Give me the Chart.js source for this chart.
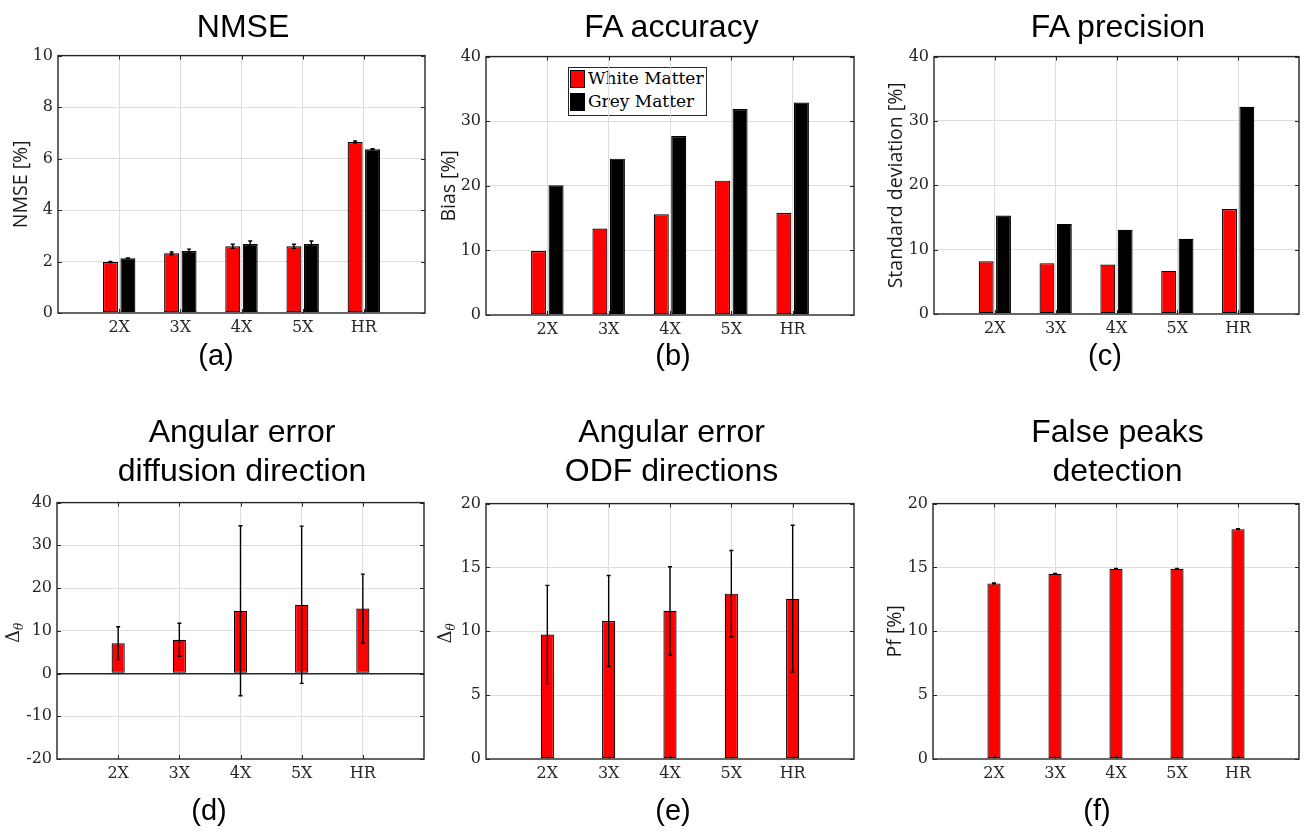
<!DOCTYPE html>
<html>
<head>
<meta charset="utf-8">
<script src="https://cdn.jsdelivr.net/npm/chart.js@4.4.0/dist/chart.umd.min.js"></script>
<style>
  body { margin: 0; width: 1304px; height: 832px; background: #fff; position: relative; overflow: hidden; }
  canvas { position: absolute; }
  .ttl, .cap { position: absolute; width: 400px; text-align: center; font-family: "Liberation Sans", Arial, sans-serif; color: #000; line-height: 39px; white-space: nowrap; }
  .ttl { font-size: 32px; }
  .cap { font-size: 29px; }
  #legend { position: absolute; left: 568px; top: 67px; width: 137px; height: 47px; border: 1px solid #262626; background: #fff;
            font-family: "DejaVu Serif", serif; font-size: 17px; color: #000; }
  #legend .row { position: absolute; left: 1px; height: 19px; line-height: 19px; white-space: nowrap; }
  #legend .sw { position: absolute; left: 0; top: 0; width: 13px; height: 16px; border: 1px solid #000; }
  #legend .tx { position: absolute; left: 18px; top: -1px; }
</style>
</head>
<body>
<div id="legend"></div>
<script>
// categories and series
const categories = ['2X', '3X', '4X', '5X', 'HR'];
const seriesNames = ['White Matter', 'Grey Matter'];
const seriesColors = ['#ff0000', '#000000'];

// (a) NMSE [%]
const nmseWhite = [1.98, 2.32, 2.59, 2.59, 6.64];
const nmseGrey = [2.13, 2.41, 2.68, 2.68, 6.36];
const nmseWhiteErr = [0.02, 0.05, 0.08, 0.08, 0.04];
const nmseGreyErr = [0.01, 0.07, 0.12, 0.12, 0.02];

// (b) FA bias [%]
const biasWhite = [9.9, 13.4, 15.6, 20.8, 15.8];
const biasGrey = [20.1, 24.2, 27.7, 31.9, 32.9];

// (c) FA standard deviation [%]
const sdWhite = [8.2, 7.9, 7.7, 6.7, 16.3];
const sdGrey = [15.3, 14.0, 13.1, 11.7, 32.2];

// (d) angular error, diffusion direction
const angDiff = [7.1, 7.9, 14.7, 16.1, 15.2];
const angDiffErr = [3.85, 3.86, 19.9, 18.4, 8.06];

// (e) angular error, ODF directions
const angOdf = [9.75, 10.8, 11.6, 12.95, 12.55];
const angOdfErr = [3.85, 3.57, 3.46, 3.38, 5.75];

// (f) false peaks
const falsePeaks = [13.75, 14.5, 14.9, 14.9, 18.0];
const falsePeaksErr = [0.03, 0.03, 0.03, 0.03, 0.03];

const pad = a => [null, ...a, null];
const axisLabels = ['', ...categories, ''];

const ink = '#262626';
const gridCol = '#dddddd';
const tickFont = { family: 'DejaVu Serif', size: 16 };

// error bars drawn on top of the bars
const errPlugin = {
  id: 'errbars',
  afterDatasetsDraw(chart) {
    const ctx = chart.ctx;
    const ys = chart.scales.y;
    chart.data.datasets.forEach((ds, i) => {
      if (!ds.errors) return;
      const meta = chart.getDatasetMeta(i);
      meta.data.forEach((bar, j) => {
        const v = ds.data[j], e = ds.errors[j];
        if (v == null || e == null) return;
        const y1 = ys.getPixelForValue(v + e);
        const y2 = ys.getPixelForValue(v - e);
        ctx.save();
        ctx.strokeStyle = '#000';
        ctx.lineWidth = 1.4;
        ctx.beginPath();
        ctx.moveTo(bar.x, y1); ctx.lineTo(bar.x, y2);
        ctx.moveTo(bar.x - 2, y1); ctx.lineTo(bar.x + 2, y1);
        ctx.moveTo(bar.x - 2, y2); ctx.lineTo(bar.x + 2, y2);
        ctx.stroke();
        ctx.restore();
      });
    });
  }
};

// matlab style box with inward ticks
const boxPlugin = {
  id: 'mbox',
  afterDraw(chart) {
    const { ctx, chartArea: a } = chart;
    const xs = chart.scales.x, ys = chart.scales.y;
    ctx.save();
    ctx.strokeStyle = ink;
    ctx.lineWidth = 1.4;
    ctx.strokeRect(a.left, a.top, a.right - a.left, a.bottom - a.top);
    ctx.lineWidth = 1;
    ctx.beginPath();
    ys.ticks.forEach(t => {
      const y = Math.round(ys.getPixelForValue(t.value)) + 0.5;
      ctx.moveTo(a.left, y); ctx.lineTo(a.left + 4, y);
      ctx.moveTo(a.right, y); ctx.lineTo(a.right - 4, y);
    });
    for (let i = 1; i <= categories.length; i++) {
      const x = Math.round(xs.getPixelForValue(i)) + 0.5;
      ctx.moveTo(x, a.bottom); ctx.lineTo(x, a.bottom - 4);
      ctx.moveTo(x, a.top); ctx.lineTo(x, a.top + 4);
    }
    ctx.stroke();
    ctx.restore();
  }
};

function deltaTheta(cx) {
  return {
    id: 'dtheta',
    afterDraw(chart) {
      const { ctx, chartArea: a } = chart;
      const cy = (a.top + a.bottom) / 2 + 2;
      ctx.save();
      ctx.translate(cx, cy);
      ctx.rotate(-Math.PI / 2);
      ctx.fillStyle = ink;
      ctx.font = '18px "DejaVu Serif"';
      const wD = ctx.measureText('Δ').width;
      ctx.font = 'italic 12px "DejaVu Serif"';
      const wT = ctx.measureText('θ').width;
      const x0 = -(wD + wT) / 2;
      ctx.font = '18px "DejaVu Serif"';
      ctx.fillText('Δ', x0, 6);
      ctx.font = 'italic 12px "DejaVu Serif"';
      ctx.fillText('θ', x0 + wD, 10);
      ctx.restore();
    }
  };
}

const panels = [
  { area: [58, 55, 428, 313], x0: 0, y: [0, 10, 2], title: ['NMSE'], cap: '(a)', capX: 216, ylab: 'NMSE [%]', ylabX: 21,
    sets: [{ data: nmseWhite, err: nmseWhiteErr }, { data: nmseGrey, err: nmseGreyErr }] },
  { area: [486, 56, 857, 315], x0: 436, y: [0, 40, 10], title: ['FA accuracy'], cap: '(b)', capX: 673, ylab: 'Bias [%]', ylabX: 449,
    sets: [{ data: biasWhite }, { data: biasGrey }] },
  { area: [934, 56, 1302, 314], x0: 872, y: [0, 40, 10], title: ['FA precision'], cap: '(c)', capX: 1105, ylab: 'Standard deviation [%]', ylabX: 896,
    sets: [{ data: sdWhite }, { data: sdGrey }] },
  { area: [57, 502, 427, 759], x0: 0, y: [-20, 40, 10], title: ['Angular error', 'diffusion direction'], cap: '(d)', capX: 209, dtheta: 13,
    sets: [{ data: angDiff, err: angDiffErr }] },
  { area: [486, 503, 857, 759], x0: 436, y: [0, 20, 5], title: ['Angular error', 'ODF directions'], cap: '(e)', capX: 673, dtheta: 9,
    sets: [{ data: angOdf, err: angOdfErr }] },
  { area: [933, 503, 1302, 759], x0: 872, y: [0, 20, 5], title: ['False peaks', 'detection'], cap: '(f)', capX: 1097, ylab: 'Pf [%]', ylabX: 895,
    sets: [{ data: falsePeaks, err: falsePeaksErr }] }
];

panels.forEach((p, k) => {
  const [l, t, r, b] = p.area;
  const topRow = k < 3;
  const y0 = t - 14, x1 = r + 2, y1 = b + 36;

  const cv = document.createElement('canvas');
  cv.width = x1 - p.x0; cv.height = y1 - y0;
  cv.style.left = p.x0 + 'px'; cv.style.top = y0 + 'px';
  document.body.appendChild(cv);

  const ttl = document.createElement('div');
  ttl.className = 'ttl';
  ttl.style.left = ((l + r) / 2 - 200) + 'px';
  ttl.style.top = (topRow ? 7 : 412) + 'px';
  ttl.innerHTML = p.title.join('<br>');
  document.body.appendChild(ttl);

  const cap = document.createElement('div');
  cap.className = 'cap';
  cap.style.left = (p.capX - 200) + 'px';
  cap.style.top = (topRow ? 336 : 791) + 'px';
  cap.textContent = p.cap;
  document.body.appendChild(cap);

  const grouped = p.sets.length > 1;
  const [yMin, yMax, step] = p.y;
  const plugins = [errPlugin, boxPlugin];
  if (p.dtheta !== undefined) plugins.push(deltaTheta(p.dtheta));

  new Chart(cv.getContext('2d'), {
    type: 'bar',
    data: {
      labels: axisLabels,
      datasets: p.sets.map((s, i) => ({
        label: seriesNames[i],
        data: pad(s.data),
        errors: s.err ? pad(s.err) : null,
        backgroundColor: seriesColors[i],
        borderColor: '#000',
        borderWidth: 1.2,
        borderSkipped: false,
        categoryPercentage: grouped ? 0.57 : 0.215,
        barPercentage: grouped ? 0.86 : 1
      }))
    },
    options: {
      responsive: false,
      animation: false,
      layout: { padding: { top: 14, right: 2, left: 0, bottom: 0 } },
      plugins: { legend: { display: false }, tooltip: { enabled: false } },
      scales: {
        x: {
          offset: false,
          grid: { offset: false, drawTicks: false,
                  color: c => (c.index === 0 || c.index === axisLabels.length - 1) ? 'rgba(0,0,0,0)' : gridCol },
          border: { display: false },
          ticks: { autoSkip: false, maxRotation: 0, padding: 5, font: tickFont, color: ink },
          afterFit: s => { s.height = 36; }
        },
        y: {
          min: yMin, max: yMax,
          grid: { drawTicks: false,
                  color: c => (c.tick.value === yMin || c.tick.value === yMax) ? 'rgba(0,0,0,0)' : (c.tick.value === 0 ? ink : gridCol),
                  lineWidth: c => c.tick.value === 0 ? 1.4 : 1 },
          border: { display: false },
          ticks: { stepSize: step, padding: 5, font: tickFont, color: ink },
          title: { display: !!p.ylab, text: p.ylab || '', color: '#1a1a1a',
                   font: { family: 'Open Sans', size: 19.5 },
                   padding: { top: p.ylab ? p.ylabX - p.x0 - 11.7 : 0, bottom: 0 } },
          afterFit: s => { s.width = l - p.x0; }
        }
      }
    },
    plugins: plugins
  });
});

// legend for the white / grey matter series
const lg = document.getElementById('legend');
seriesNames.forEach((n, i) => {
  const row = document.createElement('div');
  row.className = 'row';
  row.style.top = (2 + i * 23) + 'px';
  row.innerHTML = '<div class="sw" style="background:' + seriesColors[i] + '"></div><div class="tx">' + n + '</div>';
  lg.appendChild(row);
});
</script>
</body>
</html>
